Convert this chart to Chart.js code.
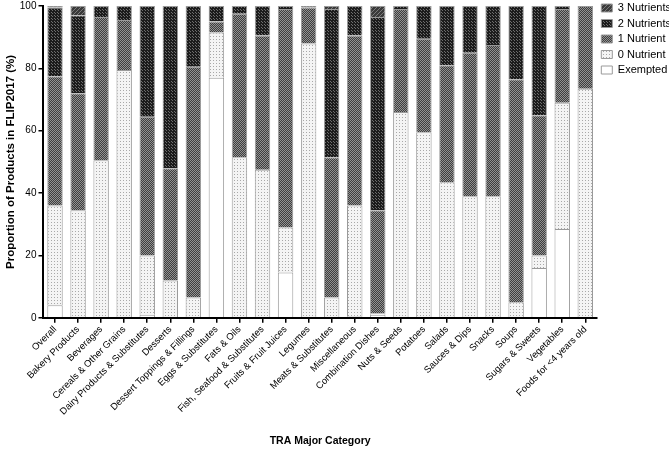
<!DOCTYPE html>
<html>
<head>
<meta charset="utf-8">
<script src="https://cdn.jsdelivr.net/npm/chart.js@4.4.1/dist/chart.umd.min.js"></script>
<style>
  body { margin: 0; background: #fff; }
  #wrap { width: 669px; height: 449px; }
</style>
</head>
<body>
<div id="wrap"><canvas id="myChart" width="669" height="449"></canvas></div>
<script>
// categories and values (% of products)
var categories = ["Overall", "Bakery Products", "Beverages", "Cereals & Other Grains",
  "Dairy Products & Substitutes", "Desserts", "Dessert Toppings & Fillings",
  "Eggs & Substitutes", "Fats & Oils", "Fish, Seafood & Substitutes",
  "Fruits & Fruit Juices", "Legumes", "Meats & Substitutes", "Miscellaneous",
  "Combination Dishes", "Nuts & Seeds", "Potatoes", "Salads", "Sauces & Dips",
  "Snacks", "Soups", "Sugars & Sweets", "Vegetables", "Foods for <4 years old"];

var exempted   = [4, 0, 0, 0, 1, 0, 0, 77, 0, 0, 14.5, 0, 0, 0.5, 1, 0, 0, 0, 0, 0, 0, 16, 28.5, 0];
var nutrient0  = [32, 34.5, 50.5, 79.5, 19, 12, 6.5, 14.5, 51.5, 47.5, 14.5, 88, 6.5, 35.5, 0.5, 66, 59.5, 43.5, 39, 39, 5, 4, 40.5, 73.5];
var nutrient1  = [41.5, 37.5, 46, 16, 44.5, 36, 74, 3.5, 46, 43, 70, 11.5, 45, 54.5, 33, 33, 30, 37.5, 46, 48.5, 71.5, 45, 30, 26.5];
var nutrients2 = [22, 25, 3.5, 4.5, 35.5, 52, 19.5, 5, 2.5, 9.5, 1, 0.5, 47.5, 9.5, 62, 1, 10.5, 19, 15, 12.5, 23.5, 35, 1, 0];
var nutrients3 = [0.5, 3, 0, 0, 0, 0, 0, 0, 0, 0, 0, 0, 1, 0, 3.5, 0, 0, 0, 0, 0, 0, 0, 0, 0];

var yTicks = [0, 20, 40, 60, 80, 100];

Chart.defaults.font.family = "'Liberation Sans', Arial, sans-serif";
Chart.defaults.color = '#000';

// small tiled fills to mimic the printed patterns
function makePattern(size, bg, fg, pixels) {
  var c = document.createElement('canvas');
  c.width = size; c.height = size;
  var g = c.getContext('2d');
  g.fillStyle = bg;
  g.fillRect(0, 0, size, size);
  g.fillStyle = fg;
  pixels.forEach(function (p) { g.fillRect(p[0], p[1], 1, 1); });
  return g.createPattern(c, 'repeat');
}

var pat0 = makePattern(3, '#f4f4f4', '#a8a8a8', [[0, 0]]);
var pat1 = makePattern(2, '#3e3e3e', '#929292', [[0, 0], [1, 1]]);
var pat2 = makePattern(3, '#1c1c1c', '#6e6e6e', [[1, 1], [0, 0]]);
var pat3 = makePattern(4, '#3a3a3a', '#7a7a7a', [[3, 0], [2, 1], [1, 2], [0, 3]]);

var axisGrid = {
  display: true,
  drawOnChartArea: false,
  drawTicks: true,
  tickLength: 5,
  color: '#000',
  lineWidth: 1.5,
  offset: false
};

// nudge the legend up a little, like the original
var legendShift = {
  id: 'legendShift',
  afterLayout: function (chart) {
    chart.legend.top -= 6;
    chart.legend.bottom -= 6;
  }
};

var ctx = document.getElementById('myChart').getContext('2d');
var chart = new Chart(ctx, {
  type: 'bar',
  data: {
    labels: categories,
    datasets: [
      { label: 'Exempted', data: exempted, backgroundColor: '#ffffff' },
      { label: '0 Nutrient', data: nutrient0, backgroundColor: pat0 },
      { label: '1 Nutrient', data: nutrient1, backgroundColor: pat1 },
      { label: '2 Nutrients', data: nutrients2, backgroundColor: pat2 },
      { label: '3 Nutrients', data: nutrients3, backgroundColor: pat3 }
    ]
  },
  plugins: [legendShift],
  options: {
    responsive: false,
    animation: false,
    devicePixelRatio: 1,
    datasets: {
      bar: {
        borderColor: '#9a9a9a',
        borderWidth: 1,
        barPercentage: 0.67,
        categoryPercentage: 1
      }
    },
    layout: { padding: { left: 4, right: -12, top: 4, bottom: 2 } },
    plugins: {
      tooltip: { enabled: false },
      legend: {
        position: 'right',
        align: 'start',
        reverse: true,
        labels: {
          boxWidth: 11,
          boxHeight: 8,
          padding: 4.5,
          font: { size: 11 },
          color: '#000'
        }
      }
    },
    scales: {
      x: {
        stacked: true,
        grid: axisGrid,
        border: { color: '#000', width: 2 },
        ticks: { minRotation: 45, maxRotation: 45, autoSkip: false, font: { size: 9.5 }, color: '#000', padding: 1 },
        title: {
          display: true,
          text: 'TRA Major Category',
          font: { size: 10.5, weight: 'bold' },
          color: '#000',
          padding: { top: 16, bottom: 0 }
        }
      },
      y: {
        stacked: true,
        min: 0,
        max: 100,
        grid: axisGrid,
        border: { color: '#000', width: 2 },
        afterBuildTicks: function (axis) {
          axis.ticks = yTicks.map(function (v) { return { value: v }; });
        },
        ticks: { font: { size: 10, lineHeight: 0.8 }, color: '#000', padding: 2 },
        title: {
          display: true,
          text: 'Proportion of Products in FLIP2017 (%)',
          font: { size: 11.5, weight: 'bold' },
          color: '#000',
          padding: 0
        }
      }
    }
  }
});
</script>
</body>
</html>
